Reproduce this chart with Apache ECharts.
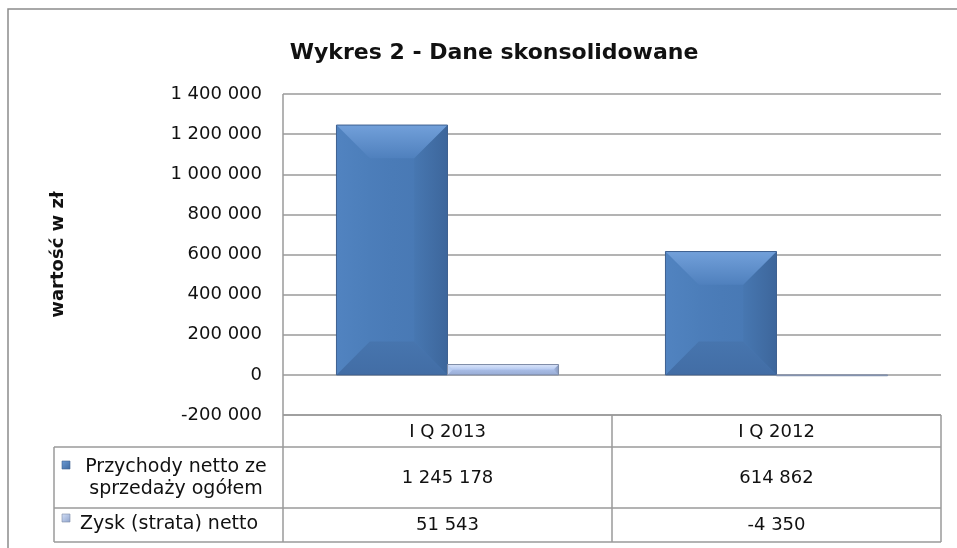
<!DOCTYPE html>
<html>
<head>
<meta charset="utf-8">
<script src="https://cdn.jsdelivr.net/npm/echarts@6.0.0/dist/echarts.min.js"></script>
<style>
	html, body { margin: 0; padding: 0; background: #fff; }
	#cn { width: 957px; height: 548px; }
</style>
</head>
<body>
<div id="cn"></div>
<script>
'use strict';

// data
const CATEGORIES = ['I Q 2013', 'I Q 2012'];
const SERIES_NAMES = ['Przychody netto ze\nsprzedaży ogółem', 'Zysk (strata) netto'];
const PRZYCHODY = [1245178, 614862];
const ZYSK = [51543, -4350];
const Y_MIN = -200000;
const Y_MAX = 1400000;
const Y_STEP = 200000;

const FONT = '"DejaVu Sans", sans-serif';
const TXT = '#111';
const LINE = '#9a9a9a';

// layout of the plot + data table
const G = { left: 283, right: 941, top: 94, bottom: 415 };
const ROW_CAT = 447;
const ROW_1 = 508;
const ROW_2 = 542;
const LEG_LEFT = 54;

// "1 245 178"
const fmt = v => (v < 0 ? '-' : '') + String(Math.abs(v)).replace(/\B(?=(\d{3})+(?!\d))/g, ' ');

const PALETTE = [{
	face: ['#4f81be', '#4a7bb7', '#4777b2'],
	top: ['#72a0da', '#4f80bd'],
	bottom: ['#4775ae', '#426da5'],
	left: ['#5183c0', '#4c7eba'],
	right: ['#4777b1', '#3d669b'],
	stroke: '#3f6191',
	icon: ['#6d9bd4', '#3f6aa0']
}, {
	face: ['#b9cdf2', '#afc4ee', '#a8bde8'],
	top: ['#dce7fb', '#b4c8f0'],
	bottom: ['#a9bde6', '#98acd5'],
	left: ['#c2d4f4', '#b3c7ef'],
	right: ['#a9bde6', '#8698be'],
	stroke: '#7d8ba6',
	icon: ['#d4e0f7', '#8fa4cc']
}];

const lin = (x2, y2, c) => ({
	type: 'linear', x: 0, y: 0, x2: x2, y2: y2,
	colorStops: c.map((col, i) => ({ offset: i / (c.length - 1), color: col }))
});

// bevelled bar like the office 3d look, positioned via api.coord / api.size
const bevelBar = slot => (params, api) => {
	const cat = api.value(0);
	const val = api.value(1);
	const p0 = api.coord([cat, 0]);
	const p1 = api.coord([cat, val]);
	const band = api.size([1, 0])[0];
	const w = band * 0.3375;
	const x = p0[0] - w + slot * w;
	const y = Math.min(p0[1], p1[1]);
	const h = Math.max(Math.abs(p1[1] - p0[1]), 0.8);
	const d = Math.min(w * 0.3, h / 2);
	const pal = PALETTE[slot];
	const poly = (pts, fill) => ({ type: 'polygon', shape: { points: pts }, style: { fill: fill } });

	return {
		type: 'group',
		children: [
			{ type: 'rect', shape: { x: x, y: y, width: w, height: h }, style: { fill: lin(1, 0, pal.face) } },
			poly([[x, y], [x + d, y + d], [x + d, y + h - d], [x, y + h]], lin(1, 0, pal.left)),
			poly([[x + w, y], [x + w - d, y + d], [x + w - d, y + h - d], [x + w, y + h]], lin(1, 0, pal.right)),
			poly([[x, y], [x + w, y], [x + w - d, y + d], [x + d, y + d]], lin(0, 1, pal.top)),
			poly([[x, y + h], [x + w, y + h], [x + w - d, y + h - d], [x + d, y + h - d]], lin(0, 1, pal.bottom)),
			{ type: 'rect', shape: { x: x, y: y, width: w, height: h }, style: { fill: 'none', stroke: pal.stroke, lineWidth: 1 } }
		]
	};
};

const hLine = (x1, x2, y) => ({ type: 'line', shape: { x1: x1, y1: y, x2: x2, y2: y }, style: { stroke: LINE, lineWidth: 1.5 }, z: 10 });
const vLine = (x, y1, y2) => ({ type: 'line', shape: { x1: x, y1: y1, x2: x, y2: y2 }, style: { stroke: LINE, lineWidth: 1.5 }, z: 10 });
const txt = (x, y, s, size) => ({
	type: 'text', x: x, y: y, z: 10,
	style: { text: s, fill: TXT, font: `${size || 18}px ${FONT}`, align: 'center', verticalAlign: 'middle', lineHeight: 22 }
});

const buildTable = () => {
	const colW = (G.right - G.left) / CATEGORIES.length;
	const rows = [PRZYCHODY, ZYSK];
	const rowMid = [(ROW_CAT + ROW_1) / 2 + 1, (ROW_1 + ROW_2) / 2];
	let els = [
		// outer frame (runs off the picture at right and bottom)
		{ type: 'rect', shape: { x: 8, y: 9, width: 1200, height: 800 }, style: { fill: 'none', stroke: '#8c8c8c', lineWidth: 1.5 }, z: 10 },
		hLine(G.left, G.right, G.bottom),
		hLine(LEG_LEFT, G.right, ROW_CAT),
		hLine(LEG_LEFT, G.right, ROW_1),
		hLine(LEG_LEFT, G.right, ROW_2),
		vLine(LEG_LEFT, ROW_CAT, ROW_2),
		vLine(G.left, G.top, ROW_2),
		vLine(G.right, G.bottom, ROW_2)
	];

	for (let i = 1; i < CATEGORIES.length; i++) {
		els.push(vLine(G.left + i * colW, G.bottom, ROW_2));
	}

	CATEGORIES.forEach((c, i) => {
		const cx = G.left + (i + 0.5) * colW;
		rows.forEach((arr, r) => els.push(txt(cx, rowMid[r], fmt(arr[i]))));
	});

	// legend keys
	const iconY = [465, 518];
	const labelX = [176, 169];
	const labelY = [478, 524];
	SERIES_NAMES.forEach((name, r) => {
		const pal = PALETTE[r];
		els.push({
			type: 'rect', z: 10,
			shape: { x: 62, y: iconY[r] - 4, width: 8, height: 8 },
			style: { fill: lin(1, 1, pal.icon), stroke: pal.stroke, lineWidth: 0.6 }
		});
		els.push(txt(labelX[r], labelY[r], name, 19));
	});

	return els;
};

const chart = echarts.init(document.getElementById('cn'), null, { renderer: 'canvas' });

const option = {
	animation: false,
	backgroundColor: '#fff',
	title: {
		text: 'Wykres 2 - Dane skonsolidowane',
		left: 489,
		textAlign: 'center',
		top: 37,
		textStyle: { fontFamily: FONT, fontSize: 22, fontWeight: 'bold', color: TXT }
	},
	grid: {
		left: G.left,
		right: 957 - G.right,
		top: G.top,
		bottom: 548 - G.bottom,
		outerBoundsMode: 'none'
	},
	xAxis: {
		type: 'category',
		data: CATEGORIES,
		axisLine: { show: false, onZero: false },
		axisTick: { show: false },
		axisLabel: { margin: 8, fontFamily: FONT, fontSize: 18, color: TXT }
	},
	yAxis: {
		type: 'value',
		min: Y_MIN,
		max: Y_MAX,
		interval: Y_STEP,
		name: 'wartość w zł',
		nameLocation: 'middle',
		nameRotate: 90,
		nameGap: 216,
		nameTextStyle: { fontFamily: FONT, fontSize: 18, fontWeight: 'bold', color: TXT },
		axisLine: { show: false },
		axisTick: { show: false },
		axisLabel: { margin: 21, fontFamily: FONT, fontSize: 18, color: TXT, formatter: fmt },
		splitLine: { lineStyle: { color: LINE, width: 1.5 } }
	},
	series: [PRZYCHODY, ZYSK].map((arr, s) => ({
		type: 'custom',
		name: SERIES_NAMES[s],
		renderItem: bevelBar(s),
		clip: false,
		encode: { x: 0, y: 1 },
		data: arr.map((v, i) => [i, v]),
		z: 3
	})),
	graphic: { elements: buildTable() }
};

chart.setOption(option);
</script>
</body>
</html>
